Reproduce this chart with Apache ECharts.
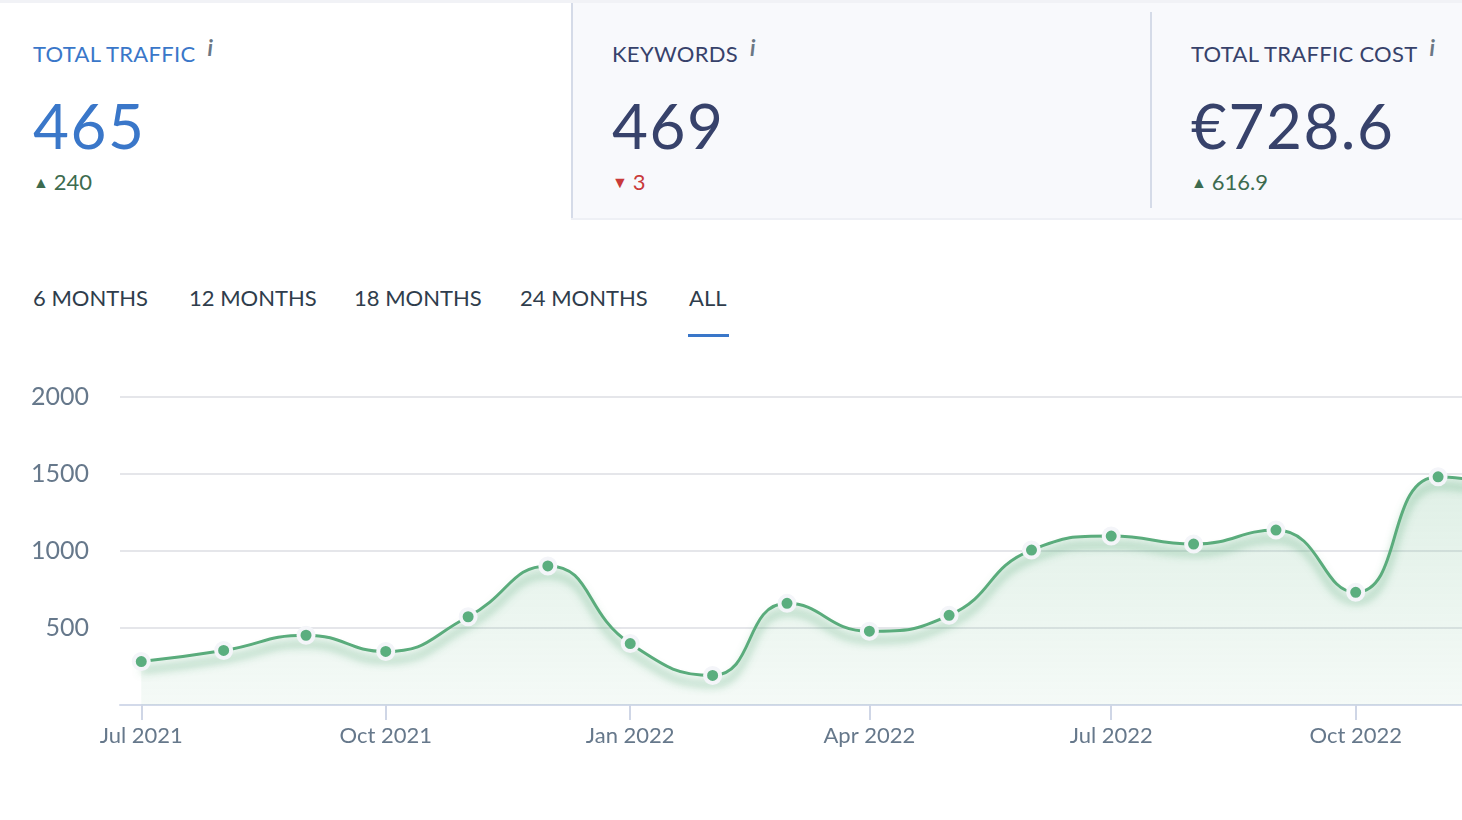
<!DOCTYPE html>
<html>
<head>
<meta charset="utf-8">
<script src="https://cdn.jsdelivr.net/npm/echarts@6/dist/echarts.min.js"></script>
<style>
  html, body { margin: 0; padding: 0; }
  body { width: 1462px; height: 820px; overflow: hidden; background: #fff; font-family: Lato, 'Open Sans', sans-serif; position: relative; }
  .topbar { position: absolute; left: 0; top: 0; width: 1462px; height: 3px; background: #f1f2f6; }
  .panel { position: absolute; left: 571px; top: 3px; width: 891px; height: 215px; background: #f8f9fc; border-left: 2px solid #d5dbe8; box-shadow: 0 2px 0 #eef0f5; }
  .divider { position: absolute; left: 1150px; top: 12px; width: 2px; height: 196px; background: #d5dbe8; }
  .kpi { position: absolute; top: 0; }
  .kpi .label { position: absolute; top: 40px; white-space: nowrap; font-size: 22px; line-height: 28px; letter-spacing: 0.3px; }
  .kpi .label i { font-family: Lato, sans-serif; font-weight: bold; font-size: 22px; color: #6b7785; margin-left: 12px; position: relative; top: -6px; }
  .kpi .value { position: absolute; top: 89px; font-size: 62px; line-height: 72px; white-space: nowrap; letter-spacing: 1.5px; }
  .kpi .delta { position: absolute; top: 168px; font-size: 22px; line-height: 28px; white-space: nowrap; }
  .kpi .delta span { font-size: 16px; margin-right: 5px; position: relative; top: -2px; }
  .up { color: #3d6b4f; }
  .down { color: #c93a3a; }
  .blue { color: #3a77c9; }
  .navy { color: #37426b; }
  .tabs { position: absolute; top: 284px; left: 0; font-size: 22px; line-height: 28px; color: #2f3d4c; }
  .tabs div { position: absolute; white-space: nowrap; }
  .underline { position: absolute; left: 688px; top: 334px; width: 41px; height: 3px; background: #3a77c9; }
  #chart { position: absolute; left: 0; top: 340px; width: 1462px; height: 480px; }
</style>
</head>
<body>
<div class="topbar"></div>
<div class="panel"></div>
<div class="divider"></div>

<div class="kpi" style="left:33px">
  <div class="label blue">TOTAL TRAFFIC<i>i</i></div>
  <div class="value blue">465</div>
  <div class="delta up"><span>&#9650;</span>240</div>
</div>
<div class="kpi" style="left:612px">
  <div class="label navy">KEYWORDS<i>i</i></div>
  <div class="value navy">469</div>
  <div class="delta down"><span>&#9660;</span>3</div>
</div>
<div class="kpi" style="left:1191px">
  <div class="label navy">TOTAL TRAFFIC COST<i>i</i></div>
  <div class="value navy">€728.6</div>
  <div class="delta up"><span>&#9650;</span>616.9</div>
</div>

<div class="tabs">
  <div style="left:33px">6 MONTHS</div>
  <div style="left:189px">12 MONTHS</div>
  <div style="left:354px">18 MONTHS</div>
  <div style="left:520px">24 MONTHS</div>
  <div style="left:689px">ALL</div>
</div>
<div class="underline"></div>

<div id="chart"></div>

<script>
// monthly points (first day of each month)
const months = [
  '2021-07-01', '2021-08-01', '2021-09-01', '2021-10-01', '2021-11-01', '2021-12-01',
  '2022-01-01', '2022-02-01', '2022-03-01', '2022-04-01', '2022-05-01', '2022-06-01',
  '2022-07-01', '2022-08-01', '2022-09-01', '2022-10-01', '2022-11-01', '2022-12-01'
];
const traffic = [282, 354, 453, 348, 573, 903, 399, 192, 660, 479, 582, 1006, 1097, 1045, 1136, 732, 1482, 1400];

const tickDates = ['2021-07-01', '2021-10-01', '2022-01-01', '2022-04-01', '2022-07-01', '2022-10-01'];
const tickLabels = ['Jul 2021', 'Oct 2021', 'Jan 2022', 'Apr 2022', 'Jul 2022', 'Oct 2022'];

const rangeStart = '2021-06-23';
const rangeEnd = '2022-11-10';

const toTs = (s) => {
  const p = s.split('-').map(Number);
  return Date.UTC(p[0], p[1] - 1, p[2]);
};

const tickTs = tickDates.map(toTs);
const axisColor = '#66788b';

const chart = echarts.init(document.getElementById('chart'));

chart.setOption({
  animation: false,
  textStyle: { fontFamily: 'Lato, sans-serif' },
  grid: { left: 120, right: 0, top: 57, bottom: 115 },
  xAxis: {
    // dates as timestamps on a linear axis, so month lengths keep their real spacing
    type: 'value',
    min: toTs(rangeStart),
    max: toTs(rangeEnd),
    axisLine: { lineStyle: { color: '#d3daea', width: 2 } },
    axisTick: {
      show: true,
      length: 15,
      customValues: tickTs,
      lineStyle: { color: '#cfd6e6', width: 2 }
    },
    axisLabel: {
      customValues: tickTs,
      color: axisColor,
      fontSize: 22,
      margin: 20,
      formatter: (val) => {
        const i = tickTs.indexOf(val);
        return i >= 0 ? tickLabels[i] : '';
      }
    },
    splitLine: { show: false }
  },
  yAxis: {
    type: 'value',
    min: 0,
    max: 2000,
    interval: 500,
    axisLine: { show: false },
    axisTick: { show: false },
    axisLabel: {
      color: axisColor,
      fontSize: 25,
      margin: 31,
      showMinLabel: false,
      formatter: (v) => String(v)
    },
    splitLine: { lineStyle: { color: '#e5e6ea', width: 2 } }
  },
  series: [{
    type: 'line',
    smooth: true,
    data: months.map((m, i) => [toTs(m), traffic[i]]),
    symbol: 'circle',
    symbolSize: 15,
    itemStyle: { color: '#5bae7f', borderColor: '#f4f5f9', borderWidth: 4 },
    lineStyle: {
      color: '#5aac7c',
      width: 3,
      shadowColor: 'rgba(70, 160, 105, 0.7)',
      shadowBlur: 9,
      shadowOffsetY: 9
    },
    areaStyle: {
      color: new echarts.graphic.LinearGradient(0, 0, 0, 1, [
        { offset: 0, color: 'rgba(90, 175, 125, 0.28)' },
        { offset: 1, color: 'rgba(90, 175, 125, 0.09)' }
      ])
    }
  }]
});
</script>
</body>
</html>
